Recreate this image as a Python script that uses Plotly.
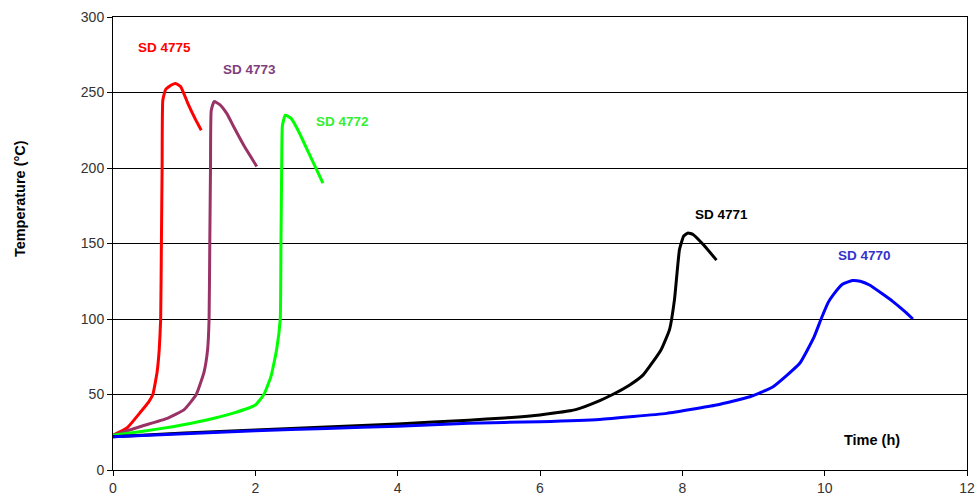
import plotly.graph_objects as go

# Temperature (°C) vs time (h) for each sample
sd4775_t = [0, 0.2, 0.38, 0.5, 0.56, 0.62, 0.65, 0.67, 0.68, 0.69, 0.70, 0.74, 0.82, 0.88, 0.95, 1.05, 1.15, 1.24]
sd4775_T = [23, 28, 38, 45, 50, 65, 80, 100, 150, 200, 245, 252, 255, 256, 254, 243, 233, 225]

sd4773_t = [0, 0.4, 0.75, 1.0, 1.17, 1.28, 1.33, 1.35, 1.36, 1.37, 1.38, 1.42, 1.5, 1.6, 1.7, 1.85, 2.02]
sd4773_T = [23, 29, 34, 40, 50, 65, 80, 100, 150, 200, 238, 244, 242, 236, 227, 214, 201]

sd4772_t = [0, 0.4, 0.84, 1.3, 1.69, 2.0, 2.12, 2.22, 2.3, 2.35, 2.36, 2.37, 2.38, 2.42, 2.5, 2.6, 2.75, 2.95]
sd4772_T = [23, 25.5, 28.7, 33, 37.7, 43, 50, 62, 80, 100, 150, 200, 228, 235, 233, 225, 210, 190]

sd4771_t = [0, 1, 2, 3, 4, 5, 5.5, 6, 6.5, 6.84, 7.02, 7.25, 7.45, 7.7, 7.82, 7.89, 7.96, 8.02, 8.08, 8.15, 8.3, 8.48]
sd4771_T = [22, 24.5, 26.5, 28.5, 30.5, 33, 34.5, 36.5, 40, 46, 50, 56, 63, 79.5, 93, 113, 146, 155, 157, 156, 149, 139]

sd4770_t = [0, 1, 2, 3, 4, 5, 6, 6.84, 7.78, 8.48, 8.95, 9.27, 9.65, 9.85, 9.95, 10.05, 10.12, 10.25,
            10.39, 10.5, 10.63, 10.8, 10.96, 11.1, 11.24]
sd4770_T = [22, 24, 26, 27.5, 29, 31, 32, 33.5, 37.5, 43, 48.5, 55, 70.7, 88, 100, 111, 116, 123,
            125.5, 125, 122.5, 117, 111.5, 106, 100]

series = [
    ("SD 4775", sd4775_t, sd4775_T, "#FF0000", "#FF0000", 0.73, 280),
    ("SD 4773", sd4773_t, sd4773_T, "#993366", "#7F3F7F", 1.92, 265),
    ("SD 4772", sd4772_t, sd4772_T, "#00FF00", "#33EE33", 3.22, 231),
    ("SD 4771", sd4771_t, sd4771_T, "#000000", "#000000", 8.55, 169),
    ("SD 4770", sd4770_t, sd4770_T, "#0000FF", "#3333CC", 10.56, 142),
]

FONT = "Liberation Sans, Arial"

fig = go.Figure()
annotations = []
for name, t, T, col, tcol, lx, ly in series:
    fig.add_trace(go.Scatter(x=t, y=T, mode="lines", name=name,
                             line=dict(color=col, width=3, shape="spline", smoothing=0.4)))
    annotations.append(dict(x=lx, y=ly, text="<b>" + name + "</b>", showarrow=False,
                            font=dict(family=FONT, size=13.5, color=tcol)))

annotations.append(dict(x=10.66, y=20, text="<b>Time (h)</b>", showarrow=False,
                        font=dict(family=FONT, size=14.5, color="#000000")))
annotations.append(dict(xref="paper", yref="paper", x=-0.109, y=0.60, xanchor="center",
                        yanchor="middle", textangle=-90, showarrow=False,
                        text="<b>Temperature (°C)</b>",
                        font=dict(family=FONT, size=14.5, color="#000000")))

fig.update_layout(
    width=978, height=497,
    margin=dict(l=113, r=11, t=17, b=27),
    paper_bgcolor="white", plot_bgcolor="white",
    showlegend=False,
    annotations=annotations,
    font=dict(family=FONT, size=14, color="#333333"),
    xaxis=dict(range=[0, 12], dtick=2, showgrid=False, zeroline=False, automargin=False,
               showline=True, linecolor="#000000", linewidth=1, mirror=True,
               ticks="outside", ticklen=5, tickcolor="#000000",
               tickfont=dict(size=14, color="#333333")),
    yaxis=dict(range=[0, 300], dtick=50, showgrid=True, gridcolor="#000000", gridwidth=1,
               zeroline=False, automargin=False,
               showline=True, linecolor="#000000", linewidth=1, mirror=True,
               ticks="outside", ticklen=5, tickcolor="#000000",
               tickfont=dict(size=14, color="#333333")),
)

fig.write_html("out.html")
